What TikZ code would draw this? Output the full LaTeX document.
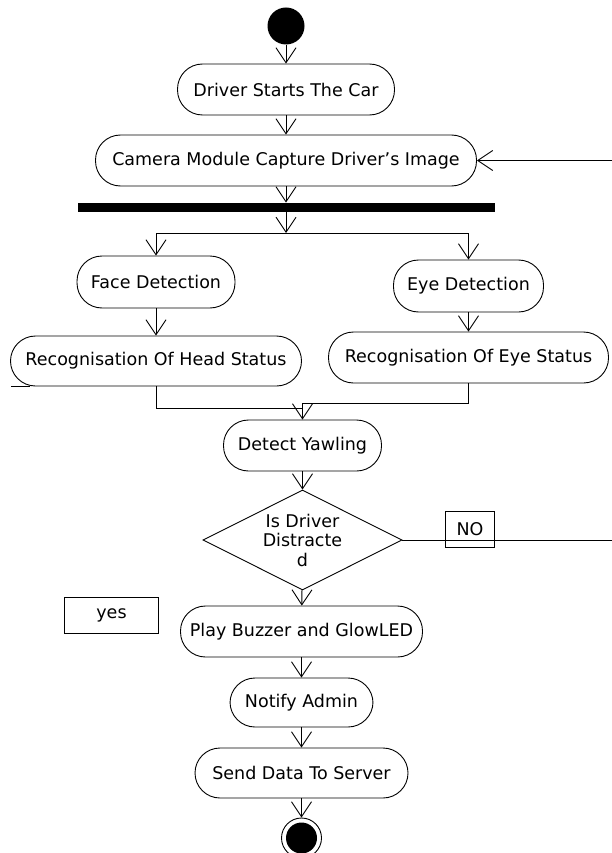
\documentclass[tikz,border=0pt]{standalone}
\usepackage{fontspec}
\setmainfont{DejaVu Sans}
\usetikzlibrary{positioning, shapes.geometric, arrows.meta}

\begin{document}
\begin{tikzpicture}[x=1pt, y=-1pt, on grid, line width=0.9pt, every node/.style={font=\fontsize{17.5pt}{19.5pt}\selectfont}, >={Straight Barb[length=15pt,width=20pt]},
  activity/.style={draw, rectangle, rounded corners=25pt, minimum width=#1, minimum height=51pt, inner sep=0pt},
  guard/.style={draw, rectangle, minimum height=36pt, inner sep=0pt},
  final/.style={draw, circle, minimum size=40pt, inner sep=0pt, path picture={\fill (path picture bounding box.center) circle (15.5pt);}}]
  \useasboundingbox (0,0) rectangle (611,853);

  \node[circle, fill=black, minimum size=37pt, inner sep=0pt] (start) at (286,26) {};
  \node[activity=217pt, below=63.5pt of start] (drive) {Driver Starts The Car};
  \node[activity=381pt, below=71pt of drive] (camera) {Camera Module Capture Driver's Image};
  \node[fill=black, minimum width=417pt, minimum height=9pt, inner sep=0pt, below=47pt of camera] (bar) {};
  \coordinate[below=25.5pt of bar] (fork);

  \node[activity=158pt, minimum height=52pt, below=74.5pt of bar, xshift=-130pt] (face) {Face Detection};
  \node[activity=150pt, minimum height=52pt, right=312.5pt of face, yshift=-4pt] (eyedet) {Eye Detection};
  \node[activity=291pt, minimum height=50pt, below=79pt of face] (head) {Recognisation Of Head Status};
  \node[activity=280pt, below=71.5pt of eyedet] (eyestat) {Recognisation Of Eye Status};

  \node[activity=158pt, below=88pt of eyestat, xshift=-166pt] (yawl) {Detect Yawling};
  \coordinate[above=37.5pt of yawl] (joinL);
  \coordinate[above=42.5pt of yawl] (joinR);
  \node[draw, diamond, aspect=2, minimum width=199pt, minimum height=100pt, inner sep=0pt, align=center, below=94.5pt of yawl] (decide) {Is Driver\\Distracte\\d};
  \node[guard, minimum width=49pt, right=167.5pt of decide, yshift=11pt] (no) {NO};

  \node[activity=242pt, below=91.5pt of decide, xshift=-1pt] (play) {Play Buzzer and GlowLED};
  \node[guard, minimum width=94pt, left=190pt of play, yshift=16.5pt] (yes) {yes};
  \node[activity=143pt, minimum height=49pt, below=71pt of play] (notify) {Notify Admin};
  \node[activity=213pt, minimum height=50pt, below=70.5pt of notify] (send) {Send Data To Server};
  \node[final, below=65pt of send] (stop) {};

  \draw[->] (start) -- (drive);
  \draw[->] (drive) -- (camera);
  \draw[->] (camera) -- (bar);
  \draw[->] (bar) -- (fork);
  \draw[->] (fork) -| (face);
  \draw[->] (fork) -| (eyedet);
  \draw[->] (face) -- (head);
  \draw[->] (eyedet) -- (eyestat);
  \draw ([xshift=1pt]head.south west) -- ++(19pt,0);
  \draw (head) |- (joinL);
  \draw (eyestat) |- (joinR);
  \draw[->] (joinR) -- (yawl);
  \draw[->] (yawl) -- (decide);
  \draw[->] (decide.east) -- ++(230pt,0) |- (camera.east);
  \draw[->] (decide) -- (play);
  \draw[->] (play) -- (notify);
  \draw[->] (notify) -- (send);
  \draw[->] (send) -- (stop);
\end{tikzpicture}
\end{document}
